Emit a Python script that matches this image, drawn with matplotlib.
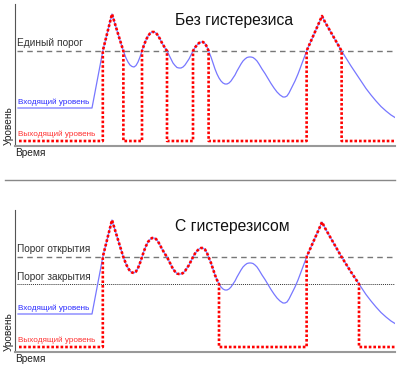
import numpy as np
import matplotlib
matplotlib.use("Agg")
import matplotlib.pyplot as plt
from matplotlib.lines import Line2D

plt.rcParams["font.family"] = ["Liberation Sans", "DejaVu Sans"]

# input level over time (same signal in both panels)
time = [3, 77, 88, 97, 100, 104, 108, 111, 113, 115, 117, 119, 121, 123, 125,
        127, 129, 131, 133, 135, 137, 139, 141, 143, 145, 147, 150, 152, 154,
        156, 158, 160, 162, 164, 166, 168, 170, 172, 174, 176, 178, 180, 182,
        184, 186, 188, 190, 192, 194, 196, 198, 200, 202, 204, 206, 208, 210,
        212, 214, 216, 218, 220, 222, 224, 226, 228, 230, 232, 234, 236, 238,
        240, 242, 244, 247, 250, 253, 256, 259, 262, 265, 268, 270, 272, 274,
        276, 278, 280, 283, 286, 289, 292, 296, 300, 304, 307, 310, 314, 318,
        322, 326, 331, 336, 341, 346, 351, 356, 361, 366, 371, 376, 380]
level = [38, 38, 96, 132, 122, 109, 96, 88, 84, 81, 79.5, 79, 80.5, 84, 89,
         95, 101, 106, 110, 112.5, 114, 114, 113, 110.5, 107, 103, 98, 95, 91,
         87, 83, 80.5, 78.5, 78, 78, 79, 81, 84, 87, 91, 95, 98.5, 101,
         103, 104, 104, 102.5, 99, 94, 89, 83, 77, 72, 68, 65, 63, 62,
         62, 63, 65, 68, 71, 75, 78.5, 82, 85, 87, 88.5, 89, 89, 88.5,
         87, 85, 82, 77, 72.5, 67.5, 62.5, 58, 54, 51, 49, 49, 50, 53,
         57, 61, 65, 72, 80, 88, 96, 105, 114, 123, 130, 124, 117, 110,
         103, 96, 88, 80, 72.5, 65, 57.5, 51, 45, 39.5, 35, 31, 28.5]

single_threshold = 95
open_threshold = 95
close_threshold = 68
low_output = 5


def output_path(t, v, on_lvl, off_lvl, low):
    # comparator: goes high above on_lvl, back low below off_lvl
    ot, ov = [t[0] + 1], [low]
    state = v[0] > on_lvl
    for i in range(1, len(t)):
        thr = off_lvl if state else on_lvl
        crossed = v[i] < thr if state else v[i] > thr
        if crossed:
            tc = t[i - 1] + (thr - v[i - 1]) * (t[i] - t[i - 1]) / (v[i] - v[i - 1])
            ot += [tc, tc]
            ov += [thr, low] if state else [low, thr]
            state = not state
        ot.append(t[i])
        ov.append(v[i] if state else low)
    return ot, ov


fig = plt.figure(figsize=(4.0, 3.69), dpi=100)
W, H = 400, 369

panels = [
    ("Без гистерезиса", 146, [("Единый порог", single_threshold, (0, (4, 3)), "#777777", 1.0)],
     single_threshold, single_threshold),
    ("С гистерезисом", 352, [("Порог открытия", open_threshold, (0, (4, 3)), "#777777", 1.0),
                             ("Порог закрытия", close_threshold, (0, (1, 1)), "#333333", 0.7)],
     open_threshold, close_threshold),
]

for title, base_px, lines, on_lvl, off_lvl in panels:
    ax = fig.add_axes([15 / W, 1 - base_px / H, 380 / W, 142 / H])
    ax.set_xlim(0, 380)
    ax.set_ylim(0, 142)
    ax.set_xticks([])
    ax.set_yticks([])
    ax.patch.set_alpha(0)
    for s in ("top", "right"):
        ax.spines[s].set_visible(False)
    ax.spines["left"].set_color("#555555")
    ax.spines["left"].set_linewidth(0.8)
    ax.spines["bottom"].set_color("#999999")
    ax.spines["bottom"].set_linewidth(1.5)

    for name, lvl, ls, col, lw in lines:
        ax.plot([2, 382], [lvl, lvl], linestyle=ls, color=col, lw=lw)
        ax.text(2, lvl + 2.5, name, fontsize=7.3, color="#333333",
                ha="left", va="bottom")

    ax.plot(time, level, color="#7777ff", lw=0.9)
    ot, ov = output_path(time, level, on_lvl, off_lvl, low_output)
    ax.plot(ot, ov, color="#ff0000", lw=1.9, linestyle=(0, (1, 0.75)),
            dash_capstyle="butt")

    ax.text(3, 44, "Входящий уровень", fontsize=5.9, color="#2a2aff",
            ha="left", va="center")
    ax.text(3, 12, "Выходящий уровень", fontsize=5.9, color="#ff3030",
            ha="left", va="center")
    ax.text(160, 125, title, fontsize=11.3, color="#111111",
            ha="left", va="center")

    fig.text(15 / W, 1 - (base_px + 7) / H, "Время", fontsize=7.3,
             color="#222222", ha="left", va="center")
    fig.text(8.5 / W, 1 - (base_px - 20) / H, "Уровень", fontsize=7.3,
             color="#222222", rotation=90, ha="center", va="center")

fig.add_artist(Line2D([5 / W, 395 / W], [1 - 180 / H, 1 - 180 / H],
                      color="#888888", lw=1.0))

fig.savefig("out.png", dpi=100)
